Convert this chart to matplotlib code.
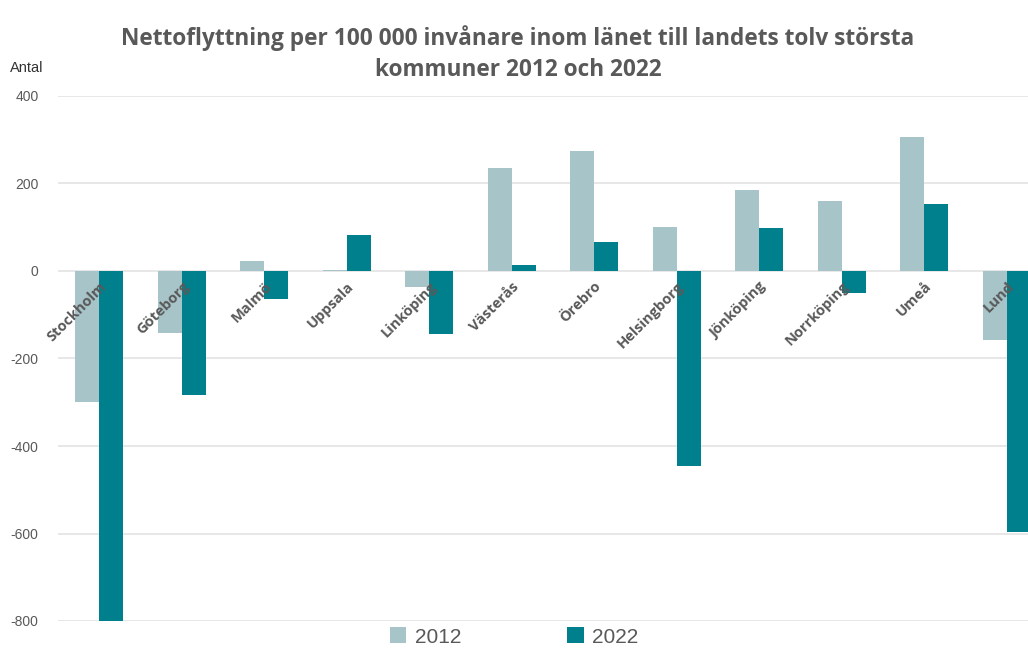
import matplotlib
matplotlib.use('Agg')
import matplotlib.pyplot as plt
import numpy as np

kommuner = ['Stockholm', 'Göteborg', 'Malmö', 'Uppsala', 'Linköping', 'Västerås',
            'Örebro', 'Helsingborg', 'Jönköping', 'Norrköping', 'Umeå', 'Lund']
v2012 = [-300, -142, 23, 3, -37, 235, 274, 100, 185, 160, 306, -158]
v2022 = [-800, -283, -64, 82, -144, 14, 66, -446, 98, -50, 153, -597]
yticks = [-800, -600, -400, -200, 0, 200, 400]

c2012 = '#a7c4c9'
c2022 = '#00808c'
grey = '#595959'

fig = plt.figure(figsize=(10.28, 6.48), dpi=100)
ax = fig.add_axes([58/1028, 1 - 621/648, 1 - 58/1028, (621 - 96)/648])

x = np.arange(len(kommuner))
w = 0.29
ax.bar(x - w/2, v2012, width=w, color=c2012, label='2012', zorder=3)
ax.bar(x + w/2, v2022, width=w, color=c2022, label='2022', zorder=3)

ax.set_ylim(-800, 400)
ax.set_xlim(-0.5, 11.26)
ax.set_yticks(yticks)
ax.set_yticklabels([str(t) for t in yticks], fontsize=10, color=grey,
                   family='Liberation Sans')
ax.yaxis.grid(True, color='#e3e3e3', linewidth=1.2, zorder=0)
ax.tick_params(axis='y', length=0, pad=14)

# kategorietiketter vid nollinjen, ovanpå staplarna
ax.spines['bottom'].set_position(('data', 0))
ax.spines['bottom'].set_visible(False)
for s in ['top', 'right', 'left']:
    ax.spines[s].set_visible(False)
ax.set_xticks(x)
ax.set_xticklabels(kommuner, rotation=45, ha='right', rotation_mode='anchor',
                   fontsize=10.5, fontweight='bold', color=grey, family='Open Sans')
ax.tick_params(axis='x', length=0, pad=6)
ax.xaxis.set_zorder(10)

fig.text(518/1028, 1 - 38/648, 'Nettoflyttning per 100 000 invånare inom länet till landets tolv största',
         ha='center', va='center', fontsize=16.3, fontweight='bold', color=grey,
         family='Open Sans')
fig.text(518/1028, 1 - 70/648, 'kommuner 2012 och 2022',
         ha='center', va='center', fontsize=16.3, fontweight='bold', color=grey,
         family='Open Sans')
fig.text(10/1028, 1 - 68/648, 'Antal', ha='left', va='center', fontsize=10.5,
         color='#333333', family='Liberation Sans')

leg = fig.legend(loc='center', bbox_to_anchor=(514/1028, 1 - 637/648), ncol=2,
                 frameon=False, columnspacing=5.1, handlelength=0.8,
                 handleheight=0.8, handletextpad=0.4,
                 prop={'family': 'Liberation Sans', 'size': 15})
for t in leg.get_texts():
    t.set_color(grey)

fig.savefig('out.png', dpi=100)
